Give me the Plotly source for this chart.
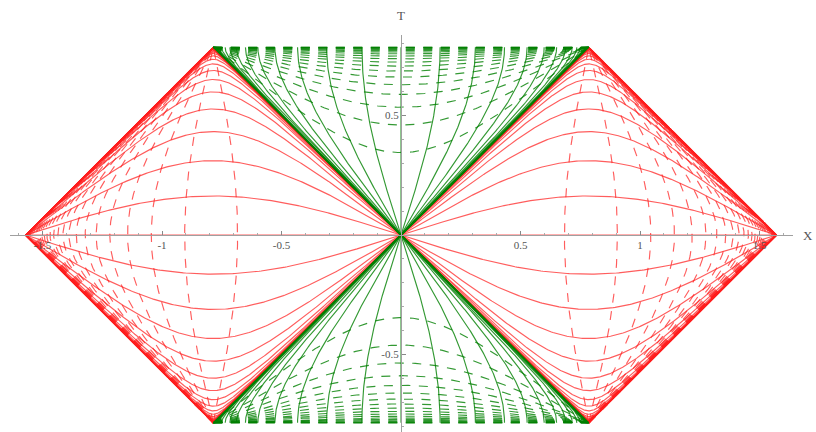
import numpy as np
import plotly.graph_objects as go

# Schwarzschild spacetime in compactified Kruskal (Penrose) coordinates, r_s = 1.
# Slices of constant Schwarzschild time, tau = t / (2 r_s)
TAU_VALUES = [0.0, 0.333, 0.667, 1.0, 1.333, 1.667, 2.0, 2.333, 2.667, 3.0,
              3.333, 3.667, 4.0, 4.333, 4.667, 5.0, 5.333, 5.667, 6.0,
              6.333, 6.667, 7.0]
# Surfaces of constant radius outside the horizon (r / r_s)
R_OUTSIDE = [1.2, 1.4, 1.6, 1.8, 2.0, 2.2, 2.4, 2.6, 2.8, 3.0, 3.2, 3.4, 3.6,
             3.8, 4.0, 4.2, 4.4, 4.6, 4.8, 5.0, 5.4, 5.8, 6.2, 6.6, 7.0, 7.5,
             8.0, 8.5, 9.0]
# Surfaces of constant radius inside the horizon (r / r_s)
R_INSIDE = [0.05, 0.1, 0.15, 0.2, 0.25, 0.3, 0.35, 0.4, 0.45, 0.5, 0.55, 0.6,
            0.65, 0.7, 0.75, 0.8, 0.85, 0.9, 0.95]

X_TICKS = [-1.5, -1.0, -0.5, 0.5, 1.0, 1.5]
X_TICK_TEXT = ["-1.5", "-1", "-0.5", "0.5", "1", "1.5"]
T_TICKS = [-0.5, 0.5]
T_TICK_TEXT = ["-0.5", "0.5"]

X_RANGE = [-1.636, 1.640]
T_RANGE = [-0.824, 0.837]

RED = "rgba(255,30,30,0.72)"
GREEN = "rgba(0,128,0,0.8)"
DASH = "9px,8.5px"
STEP = 0.02


def penrose(U, V):
    """Kruskal null coordinates -> compactified (X, T)."""
    up, vp = np.arctan(U), np.arctan(V)
    return (vp - up) / 2.0, (vp + up) / 2.0


def thin(X, T, tol=0.0015):
    """Drop points closer than ~0.4 px to the previously kept one."""
    keep = [0]
    lx, lt = X[0], T[0]
    for i in range(1, len(X) - 1):
        if abs(X[i] - lx) + abs(T[i] - lt) >= tol:
            keep.append(i)
            lx, lt = X[i], T[i]
    keep.append(len(X) - 1)
    keep = np.array(keep)
    return np.round(X[keep], 5), np.round(T[keep], 5)


def exterior_time_slice(tau):
    w = np.arange(-abs(tau) - 14, abs(tau) + 14, STEP)
    rho = np.concatenate([[0.0], np.exp(w)])
    return penrose(-rho * np.exp(-tau), rho * np.exp(tau))


def interior_time_slice(tau):
    w = np.append(np.arange(-abs(tau) - 14, 0.0, STEP), 0.0)
    rho = np.concatenate([[0.0], np.exp(w)])
    return penrose(rho * np.exp(-tau), rho * np.exp(tau))


def exterior_radius(r):
    rho2 = (r - 1.0) * np.exp(r)
    V = np.exp(np.arange(-14, np.log(rho2) + 14, STEP))
    return penrose(-rho2 / V, V)


def interior_radius(r):
    rho2 = (1.0 - r) * np.exp(r)
    V = np.exp(np.arange(np.log(rho2) - 14, 14, STEP))
    return penrose(rho2 / V, V)


fig = go.Figure()


def add(X, T, color, dash=None, width=1.15):
    X, T = thin(np.asarray(X), np.asarray(T))
    fig.add_trace(go.Scatter(
        x=X, y=T, mode="lines", hoverinfo="skip",
        line=dict(color=color, width=width, dash=dash)))


taus = sorted(set(TAU_VALUES + [-t for t in TAU_VALUES]))

# exterior regions (right and mirrored left)
for side in (1, -1):
    for tau in taus:
        X, T = exterior_time_slice(tau)
        add(side * X, T, RED)
    for r in R_OUTSIDE:
        X, T = exterior_radius(r)
        add(side * X, T, RED, DASH)

# black hole (top) and white hole (bottom) regions
for side in (1, -1):
    for tau in taus:
        X, T = interior_time_slice(tau)
        add(X, side * T, GREEN)
    for r in R_INSIDE:
        X, T = interior_radius(r)
        add(X, side * T, GREEN, DASH)

x_pos = (0 - X_RANGE[0]) / (X_RANGE[1] - X_RANGE[0])
t_pos = (0 - T_RANGE[0]) / (T_RANGE[1] - T_RANGE[0])
tick_font = dict(family="Liberation Serif", size=11, color="#555")

fig.update_layout(
    width=816, height=432,
    margin=dict(l=10, r=23, t=35, b=0),
    paper_bgcolor="white", plot_bgcolor="white",
    showlegend=False,
    xaxis=dict(range=X_RANGE, showgrid=False, zeroline=False,
               showline=True, linecolor="#a0a0a0", linewidth=1.2,
               anchor="free", position=t_pos, layer="above traces",
               ticks="inside", ticklen=4, tickcolor="#888",
               tickvals=X_TICKS, ticktext=X_TICK_TEXT, tickfont=tick_font,
               minor=dict(ticks="inside", dtick=0.1, ticklen=2,
                          tickcolor="#aaa")),
    yaxis=dict(range=T_RANGE, showgrid=False, zeroline=False,
               showline=True, linecolor="#a0a0a0", linewidth=1.2,
               anchor="free", position=x_pos, layer="above traces",
               ticks="inside", ticklen=4, tickcolor="#888",
               tickvals=T_TICKS, ticktext=T_TICK_TEXT, tickfont=tick_font,
               minor=dict(ticks="inside", dtick=0.1, ticklen=2,
                          tickcolor="#aaa")),
    annotations=[
        dict(text="X", x=1, y=t_pos, xref="paper", yref="paper",
             xanchor="left", yanchor="middle", xshift=8, showarrow=False,
             font=dict(family="Liberation Serif", size=13, color="#555")),
        dict(text="T", x=x_pos, y=1, xref="paper", yref="paper",
             xanchor="center", yanchor="bottom", yshift=10, showarrow=False,
             font=dict(family="Liberation Serif", size=13, color="#555")),
    ],
)

fig.write_html("out.html")
